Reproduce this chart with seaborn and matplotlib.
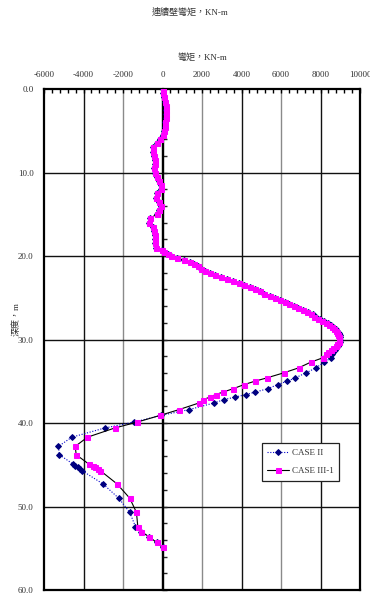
import numpy as np
import pandas as pd
import matplotlib
matplotlib.use("Agg")
import matplotlib.pyplot as plt
import seaborn as sns

# depth (m) and bending moment (KN-m)
depth_shallow = [0.0, 0.5, 1.0, 1.5, 2.0, 2.5, 3.0, 3.5, 4.0, 4.5, 5.0, 5.5, 6.0, 6.5,
                 7.0, 7.5, 8.0, 8.5, 9.0, 9.5, 10.0, 10.5, 11.0, 11.5, 12.0, 12.5, 13.0,
                 13.5, 14.0, 14.5, 15.0, 15.5, 16.0, 16.5, 17.0, 17.5, 18.0, 18.5, 19.0,
                 19.25, 19.5, 19.75, 20.0, 20.25, 20.5, 20.75, 21.0, 21.25, 21.5, 21.75,
                 22.0, 22.25, 22.5, 22.75, 23.0, 23.25, 23.5, 23.75, 24.0, 24.25, 24.5,
                 24.75, 25.0, 25.25, 25.5, 25.75, 26.0, 26.25, 26.5]
depth_peak = [26.75, 27.0, 27.25, 27.5, 27.75, 28.0, 28.25, 28.5, 28.75, 29.0, 29.25,
              29.5, 29.75, 30.0, 30.25, 30.5, 30.75, 31.0, 31.25, 31.5, 31.75]
depth_lower = [32.2, 32.7, 33.4, 34.0, 34.6, 35.0, 35.4, 35.9, 36.3, 36.6, 36.9, 37.2,
               37.6, 38.4, 39.1, 39.9, 40.6, 41.7, 42.8, 43.8, 44.9, 45.1, 45.3, 45.5,
               45.7, 47.3, 49.0, 50.7, 52.4, 53.0, 53.6, 54.3, 54.9]

# shallow part where both cases overlap (0 - 26.5 m)
shared_moment = [0, 40, 80, 120, 160, 180, 180, 160, 130, 120, 100, 30, -120, -300,
                 -460, -480, -440, -400, -400, -420, -380, -270, -170, -60, -80, -280,
                 -340, -200, -100, -160, -300, -620, -700, -500, -420, -400, -370, -360,
                 -350, -40, 100, 280, 450, 750, 1100, 1380, 1600, 1780, 1950, 2150,
                 2400, 2680, 2950, 3250, 3550, 3850, 4150, 4430, 4700, 4920, 5150,
                 5420, 5700, 5950, 6200, 6430, 6650, 6880, 7100]

case3_peak = [7300, 7500, 7680, 7860, 8080, 8300, 8450, 8580, 8680, 8760, 8840, 8900,
              8940, 8950, 8920, 8850, 8760, 8650, 8530, 8400, 8260]
case2_peak = [7380, 7600, 7780, 7950, 8180, 8400, 8530, 8650, 8760, 8850, 8920, 8970,
              8990, 9000, 8980, 8950, 8880, 8800, 8730, 8650, 8600]

case3_lower = [8110, 7520, 6890, 6130, 5280, 4670, 4130, 3570, 3060, 2690, 2390, 2070,
               1850, 830, -140, -1290, -2420, -3800, -4420, -4370, -3740, -3520, -3400,
               -3290, -3150, -2300, -1660, -1320, -1250, -1070, -700, -300, 0]
case2_lower = [8550, 8190, 7770, 7260, 6720, 6300, 5830, 5320, 4690, 4220, 3670, 3110,
               2610, 1340, -100, -1460, -2930, -4590, -5270, -5220, -4540, -4420, -4300,
               -4200, -4080, -3010, -2220, -1660, -1370, -1070, -700, -300, 0]

depth = depth_shallow + depth_peak + depth_lower
case2 = pd.DataFrame({"depth": depth, "moment": shared_moment + case2_peak + case2_lower})
case3 = pd.DataFrame({"depth": depth, "moment": shared_moment + case3_peak + case3_lower})

sns.set_style("white")
plt.rcParams["font.family"] = ["Liberation Serif", "Noto Sans CJK TC"]
plt.rcParams["axes.unicode_minus"] = False
txt = "#333333"

fig = plt.figure(figsize=(3.7, 5.97), dpi=100)
ax = fig.add_axes([44 / 370, 1 - 590 / 597, 316 / 370, 501 / 597])

# grid lines
for gx in range(-4000, 10000, 2000):
    if gx == 0:
        continue
    ax.axvline(gx, color="#111111" if gx % 4000 == 0 else "#8a8a8a", lw=1.0, zorder=0)
for gy in range(10, 60, 10):
    ax.axhline(gy, color="#111111", lw=1.0, zorder=0)
ax.axvline(0, color="black", lw=1.6, zorder=1)

sns.lineplot(data=case2, x="moment", y="depth", orient="y", sort=False, ax=ax,
             color="#0000cc", linestyle=(0, (1, 1.5)), lw=0.8, marker="D",
             markersize=3.0, markerfacecolor="#000080", markeredgecolor="#000080",
             label="CASE II", zorder=3)
sns.lineplot(data=case3, x="moment", y="depth", orient="y", sort=False, ax=ax,
             color="black", lw=0.8, marker="s", markersize=3.6,
             markerfacecolor="#ff00ff", markeredgecolor="#ff00ff",
             label="CASE III-1", zorder=4)

ax.set_xlim(-6000, 10000)
ax.set_ylim(60, 0)
ax.xaxis.tick_top()
ax.xaxis.set_label_position("top")
ax.set_xticks(range(-6000, 10001, 2000))
ax.set_xticks(range(-6000, 10001, 400), minor=True)
ax.set_yticks(range(0, 61, 10))
ax.set_yticklabels([f"{v:.1f}" for v in range(0, 61, 10)])
ax.tick_params(axis="x", which="both", direction="in", top=True, bottom=False,
               length=3, width=1.0, color="black", labelsize=6.5, labelcolor=txt, pad=7)
ax.tick_params(axis="y", which="both", left=False, labelsize=6.5, labelcolor=txt, pad=4)

for s in ax.spines.values():
    s.set_visible(True)
    s.set_color("black")
    s.set_linewidth(1.6)

# ticks along the zero line
zero_axis = ax.secondary_yaxis(0.375)
zero_axis.set_yticks(range(0, 61, 10))
zero_axis.set_yticks(range(0, 61, 2), minor=True)
zero_axis.tick_params(which="both", direction="in", length=3, width=1.0,
                      labelleft=False, labelright=False)
zero_axis.spines["left"].set_linewidth(1.6)

ax.set_xlabel("彎矩，KN-m", fontsize=6.5, color=txt, labelpad=8)
ax.set_ylabel("深度，m", fontsize=6.5, color=txt)
ax.yaxis.set_label_coords(-0.075, 0.54)
fig.text(0.513, 1 - 12 / 597, "連續壁彎矩，KN-m", ha="center", va="center",
         fontsize=6.5, color=txt)

leg = ax.legend(loc="upper left", bbox_to_anchor=(0.675, 0.302), fontsize=6.5,
                frameon=True, fancybox=False, edgecolor="#222222", framealpha=1,
                labelspacing=1.1, handlelength=2.4, borderpad=0.6, handletextpad=0.3)
leg.get_frame().set_linewidth(0.9)
for t in leg.get_texts():
    t.set_color(txt)

fig.savefig("out.png", dpi=100)
